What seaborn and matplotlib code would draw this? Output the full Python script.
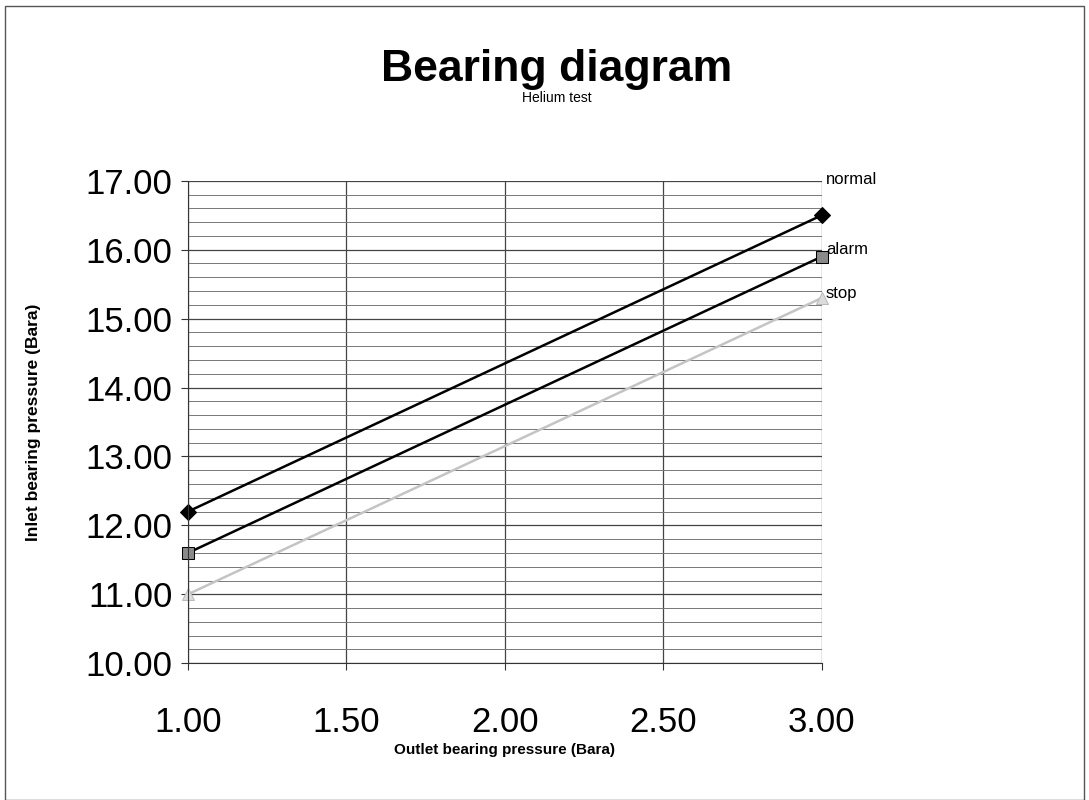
import numpy as np
import pandas as pd
import matplotlib.pyplot as plt
import seaborn as sns
from matplotlib.ticker import MultipleLocator, FormatStrFormatter
from matplotlib.patches import Rectangle

# data
outlet = [1.0, 3.0]
normal = [12.2, 16.5]
alarm = [11.6, 15.9]
stop = [11.0, 15.3]
series = ["normal", "alarm", "stop"]

df = pd.DataFrame({
    "outlet": outlet * 3,
    "inlet": normal + alarm + stop,
    "level": np.repeat(series, len(outlet)),
})

sns.set_style("white")
plt.rcParams['font.family'] = ['Liberation Sans', 'DejaVu Sans']
plt.rcParams['text.color'] = 'black'
plt.rcParams['axes.labelcolor'] = 'black'
plt.rcParams['xtick.color'] = 'black'
plt.rcParams['ytick.color'] = 'black'

fig = plt.figure(figsize=(10.89, 8), dpi=100)
ax = fig.add_axes([0.1726, 0.171, 0.582, 0.603])

# grid: major every 1.0 / 0.5, minor every 0.2 on y
ax.set_xlim(1.0, 3.0)
ax.set_ylim(10.0, 17.0)
ax.xaxis.set_major_locator(MultipleLocator(0.5))
ax.yaxis.set_major_locator(MultipleLocator(1.0))
ax.yaxis.set_minor_locator(MultipleLocator(0.2))
ax.xaxis.set_major_formatter(FormatStrFormatter('%.2f'))
ax.yaxis.set_major_formatter(FormatStrFormatter('%.2f'))
ax.grid(which='major', axis='both', color='#444444', linewidth=0.9)
ax.grid(which='minor', axis='y', color='#777777', linewidth=0.7)
ax.set_axisbelow(True)

palette = {"normal": "black", "alarm": "black", "stop": "#c4c4c4"}
markers = {"normal": "D", "alarm": "s", "stop": "^"}
sns.lineplot(data=df, x="outlet", y="inlet", hue="level", style="level",
             palette=palette, markers=markers, dashes=False, linewidth=1.8,
             markersize=8, legend=False, ax=ax, clip_on=False)

# marker faces like the original
for line, face in zip(ax.get_lines(), ["black", "#8a8a8a", "#dcdcdc"]):
    line.set_markerfacecolor(face)
    line.set_markeredgecolor("black" if face != "#dcdcdc" else "#bbbbbb")

# series labels at the right end
offsets = {"normal": 26, "alarm": 5, "stop": 3}
for name, vals in zip(series, [normal, alarm, stop]):
    ax.annotate(name, (outlet[-1], vals[-1]), xytext=(3, offsets[name]),
                textcoords='offset points', fontsize=12, va='center',
                annotation_clip=False)

for side in ['top', 'right']:
    ax.spines[side].set_visible(False)
for side in ['left', 'bottom']:
    ax.spines[side].set_color('#333333')

ax.tick_params(axis='both', which='major', labelsize=25, length=5,
               direction='out', left=True, bottom=True, color='#333333')
ax.tick_params(axis='y', which='minor', length=0)
ax.tick_params(axis='x', pad=26)
ax.tick_params(axis='y', pad=6)

ax.set_xlabel("Outlet bearing pressure (Bara)", fontsize=11, fontweight='bold',
              labelpad=3)
ax.set_ylabel("Inlet bearing pressure (Bara)", fontsize=12.5, fontweight='bold',
              labelpad=32)

fig.text(0.511, 0.899, "Bearing diagram", fontsize=32, fontweight='bold',
         ha='center', va='baseline')
fig.text(0.511, 0.877, "Helium test", fontsize=10, ha='center', va='center')

# page frame
fig.patches.append(Rectangle((0.005, 0.0), 0.99, 0.993, transform=fig.transFigure,
                             fill=False, edgecolor='#555555', linewidth=1))

fig.savefig("out.png", dpi=100)
